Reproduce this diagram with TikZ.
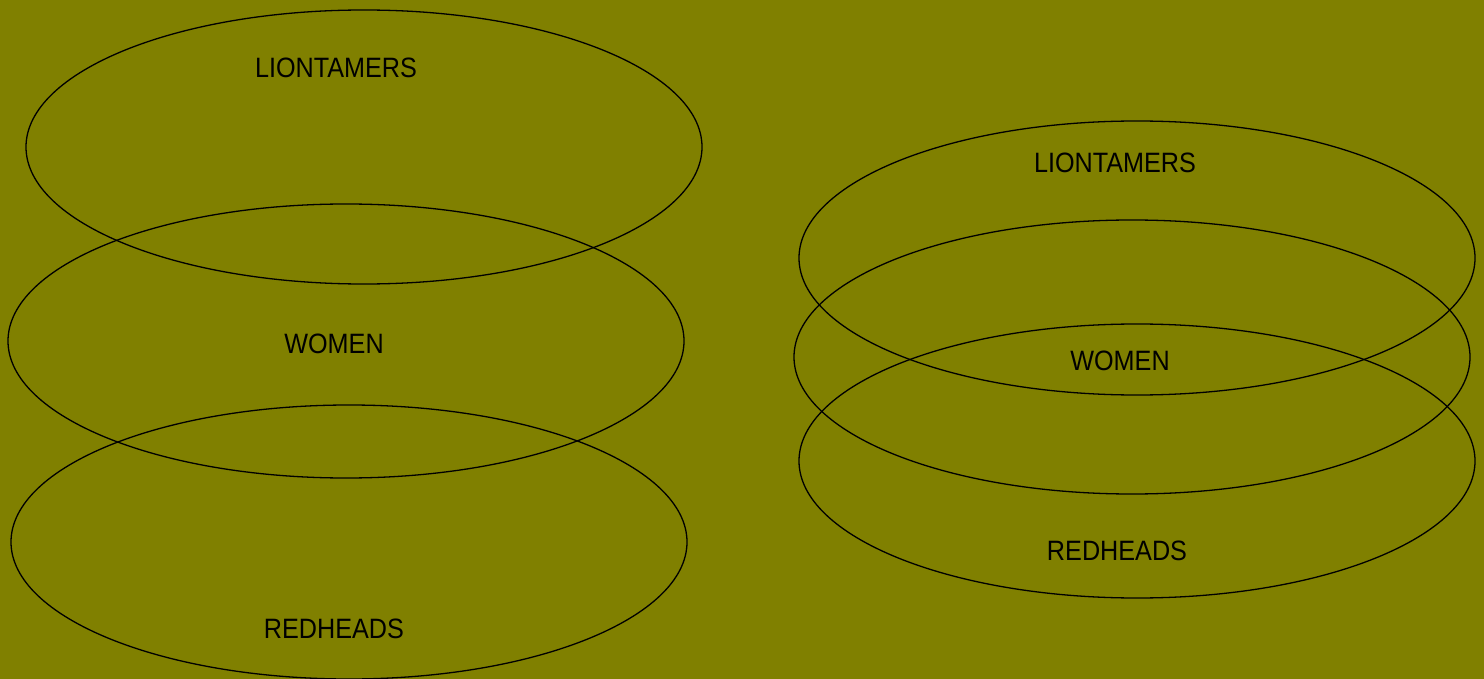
\documentclass[tikz,border=0pt]{standalone}
\usepackage{fontspec}
\setmainfont{Liberation Sans}
\usetikzlibrary{shapes.geometric}
\definecolor{olivebg}{HTML}{808000}
\begin{document}
\begin{tikzpicture}[x=1pt,y=-1pt,
  setellipse/.style={draw=black,line width=1.3pt,ellipse,inner sep=0pt,minimum width=676pt,minimum height=274pt},
  setlabel/.style={font=\fontsize{28}{30}\selectfont,xscale=0.9,inner sep=0pt,text=black}]
\fill[olivebg] (0,0) rectangle (1484,679);
\useasboundingbox (0,0) rectangle (1484,679);
% left group
\node[setellipse] (L1) at (364,147) {};
\node[setellipse] (L2) at (346,341) {};
\node[setellipse] (L3) at (349,542) {};
\node[setlabel] (tL1) at (336,68) {LIONTAMERS};
\node[setlabel] (tL2) at (334,344) {WOMEN};
\node[setlabel] (tL3) at (334,629) {REDHEADS};
% right group
\node[setellipse] (R1) at (1137,258) {};
\node[setellipse] (R2) at (1132,357) {};
\node[setellipse] (R3) at (1137,461) {};
\node[setlabel] (tR1) at (1115,163) {LIONTAMERS};
\node[setlabel] (tR2) at (1120,361) {WOMEN};
\node[setlabel] (tR3) at (1117,551) {REDHEADS};
\end{tikzpicture}
\end{document}
